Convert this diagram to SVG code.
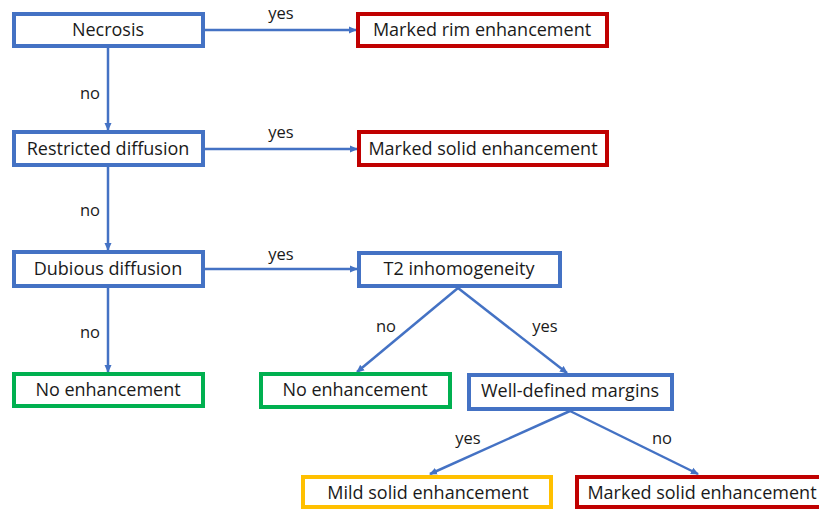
<svg xmlns="http://www.w3.org/2000/svg" width="819" height="510" viewBox="0 0 819 510">
<defs>
<marker id="ah" markerWidth="8" markerHeight="8" refX="7" refY="4" orient="auto" markerUnits="userSpaceOnUse">
<path d="M0,0.5 L8,4 L0,7.5 Z" fill="#4472C4"/>
</marker>
</defs>
<style>
.box{fill:#fff;stroke-width:4}
.b{stroke:#4472C4}
.r{stroke:#C00000}
.g{stroke:#00B050}
.y{stroke:#FFC000}
text{font-family:"Open Sans","Noto Sans",sans-serif;font-size:18px;fill:#1a1a1a;text-anchor:middle;dominant-baseline:central}
.lbl{font-size:16.5px}
.c{stroke:#4472C4;stroke-width:2.5;fill:none;marker-end:url(#ah)}
</style>
<rect width="819" height="510" fill="#fff"/>
<g id="connectors">
<line class="c" x1="205" y1="30" x2="356" y2="30"/>
<line class="c" x1="108" y1="48" x2="108" y2="130"/>
<line class="c" x1="205" y1="149" x2="357" y2="149"/>
<line class="c" x1="108" y1="167" x2="108" y2="250"/>
<line class="c" x1="205" y1="269" x2="357" y2="269"/>
<line class="c" x1="108" y1="288" x2="108" y2="372"/>
<line class="c" x1="458" y1="288" x2="357" y2="372"/>
<line class="c" x1="458" y1="288" x2="567" y2="373"/>
<line class="c" x1="570" y1="411" x2="430" y2="474"/>
<line class="c" x1="570" y1="411" x2="698" y2="474"/>
<text class="lbl" x="281" y="12">yes</text>
<text class="lbl" x="90" y="92">no</text>
<text class="lbl" x="281" y="131">yes</text>
<text class="lbl" x="90" y="209">no</text>
<text class="lbl" x="281" y="253">yes</text>
<text class="lbl" x="90" y="331">no</text>
<text class="lbl" x="386" y="325">no</text>
<text class="lbl" x="545" y="325">yes</text>
<text class="lbl" x="468" y="437">yes</text>
<text class="lbl" x="662" y="437">no</text>
</g>
<g id="necrosis"><rect class="box b" x="14" y="14" width="189" height="32"/><text x="108" y="29">Necrosis</text></g>
<g id="rim"><rect class="box r" x="358" y="14" width="249" height="32"/><text x="482" y="29">Marked rim enhancement</text></g>
<g id="restricted"><rect class="box b" x="14" y="132" width="189" height="33"/><text x="108" y="148">Restricted diffusion</text></g>
<g id="solid1"><rect class="box r" x="359" y="132" width="248" height="33"/><text x="483" y="148">Marked solid enhancement</text></g>
<g id="dubious"><rect class="box b" x="14" y="252" width="189" height="34"/><text x="108" y="268">Dubious diffusion</text></g>
<g id="t2"><rect class="box b" x="359" y="253" width="201" height="33"/><text x="459" y="268">T2 inhomogeneity</text></g>
<g id="noenh1"><rect class="box g" x="14" y="374" width="189" height="32"/><text x="108" y="389">No enhancement</text></g>
<g id="noenh2"><rect class="box g" x="261" y="374" width="189" height="33"/><text x="355" y="389">No enhancement</text></g>
<g id="margins"><rect class="box b" x="469" y="375" width="203" height="34"/><text x="570" y="390">Well-defined margins</text></g>
<g id="mild"><rect class="box y" x="303" y="477" width="248" height="30"/><text x="428" y="492">Mild solid enhancement</text></g>
<g id="solid2"><rect class="box r" x="577" y="477" width="250" height="30"/><text x="702" y="492">Marked solid enhancement</text></g>
</svg>
